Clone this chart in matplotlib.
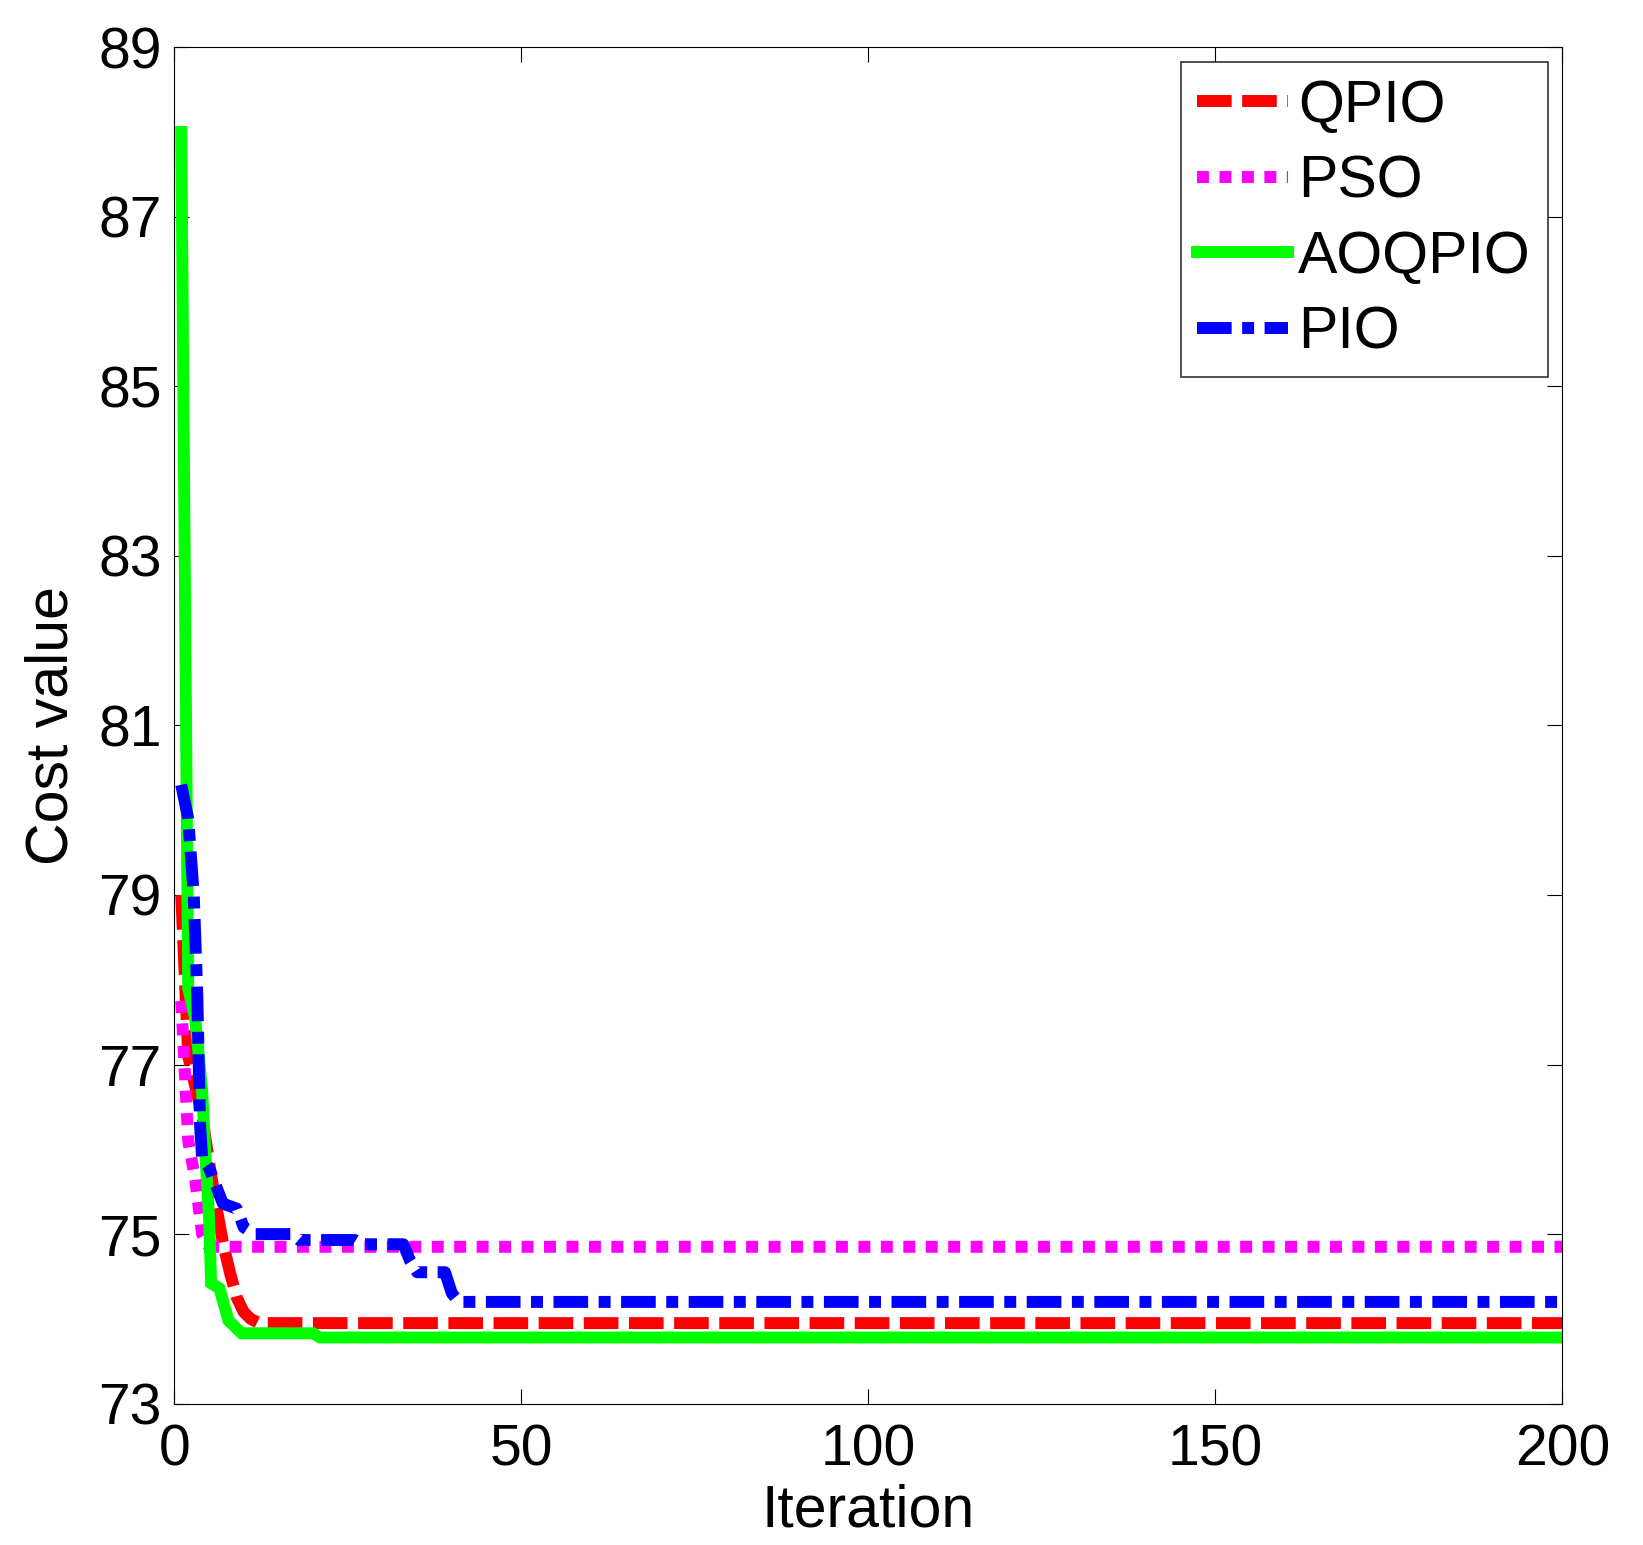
import matplotlib
matplotlib.use("Agg")
import matplotlib.pyplot as plt

# values (iteration, cost value)
qpio_x = [1, 2, 3, 4, 5, 6, 7, 8, 9, 10, 11, 12, 13, 200]
qpio_y = [79.0, 77.1, 76.75, 76.4, 75.85, 75.35, 74.9, 74.55, 74.25, 74.08, 74.0, 73.96, 73.95, 73.95]

pso_x = [1, 2, 3, 4, 5, 200]
pso_y = [77.75, 76.1, 75.65, 75.0, 74.85, 74.85]

aoqpio_x = [1, 2, 3, 4, 4.5, 5, 5.3, 6.5, 7.8, 9.7, 20, 21, 200]
aoqpio_y = [88.0, 77.9, 77.55, 76.7, 75.9, 75.2, 74.42, 74.36, 73.98, 73.83, 73.83, 73.78, 73.78]

pio_x = [1, 2, 2.8, 3.3, 3.7, 4.0, 5.0, 7.0, 9.0, 10.0, 11.5, 17, 18, 26, 27, 33, 34, 35, 39, 40, 41, 200]
pio_y = [80.3, 79.9, 79.0, 77.85, 76.3, 75.9, 75.78, 75.36, 75.3, 75.08, 75.0, 75.0, 74.93, 74.93,
         74.88, 74.88, 74.68, 74.55, 74.55, 74.3, 74.2, 74.2]

x_ticks = [0, 50, 100, 150, 200]
y_ticks = [73, 75, 77, 79, 81, 83, 85, 87, 89]

plt.rcParams['font.family'] = ['Liberation Sans', 'DejaVu Sans']

fig = plt.figure(figsize=(16.43, 15.45), dpi=100)
ax = fig.add_axes([0.1061, 0.0915, 0.8448, 0.8779])

lw = 8.6
ax.plot(qpio_x, qpio_y, color=(1, 0, 0), lw=lw, dashes=(2.9, 0.88), label='QPIO')
ax.plot(pso_x, pso_y, color=(1, 0, 1), lw=lw, dashes=(1.0, 0.88), label='PSO')
ax.plot(aoqpio_x, aoqpio_y, color=(0, 1, 0), lw=lw, label='AOQPIO', solid_joinstyle='miter')
ax.plot(pio_x, pio_y, color=(0, 0, 1), lw=lw, dashes=(2.9, 0.88, 1.0, 0.88), label='PIO')

ax.set_xlim(0, 200)
ax.set_ylim(73, 89)
ax.set_xticks(x_ticks)
ax.set_yticks(y_ticks)
ax.tick_params(direction='in', length=11, width=0.8, top=True, right=True, labelsize=41)
ax.tick_params(axis='x', pad=14)
ax.tick_params(axis='y', pad=9)
for s in ax.spines.values():
    s.set_linewidth(0.8)

ax.set_xlabel('Iteration', fontsize=42.5)
ax.set_ylabel('Cost value', fontsize=42.5)
ax.xaxis.set_label_coords(0.5, -0.059)
ax.yaxis.set_label_coords(-0.068, 0.5)

leg = ax.legend(loc='upper right', fontsize=42.5, frameon=True, fancybox=False,
                borderaxespad=0.25, borderpad=0.28, labelspacing=0.35,
                handlelength=1.53, handletextpad=0.18)
leg.get_frame().set_edgecolor('black')
leg.get_frame().set_linewidth(1.2)

fig.savefig('out.png', dpi=100)
